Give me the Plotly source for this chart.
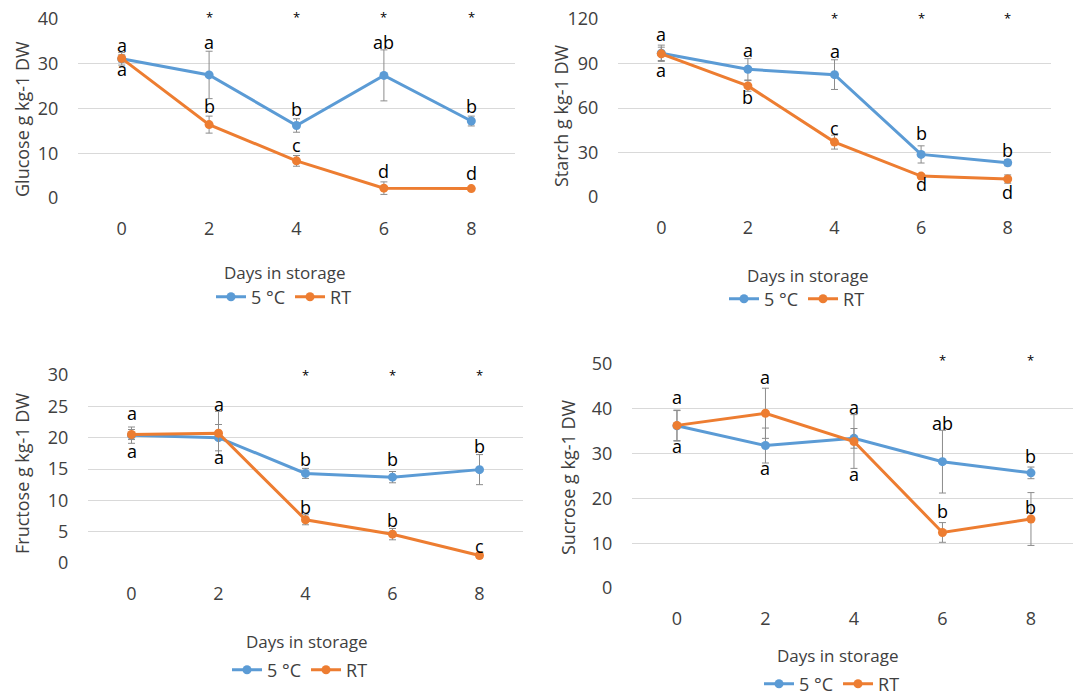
import plotly.graph_objects as go

W, H = 1073, 695

days = [0, 2, 4, 6, 8]
series_names = ["5 °C", "RT"]

glucose_5c = [31.1, 27.5, 16.2, 27.4, 17.2]
glucose_5c_err = [1.4, 5.3, 1.5, 5.7, 1.1]
glucose_rt = [31.2, 16.4, 8.3, 2.2, 2.1]
glucose_rt_err = [0.8, 1.9, 1.2, 1.4, 0.3]
glucose_5c_letters = ["a", "a", "b", "ab", "b"]
glucose_rt_letters = ["a", "b", "c", "d", "d"]
glucose_sig_days = [2, 4, 6, 8]

starch_5c = [96.9, 86.1, 82.5, 28.7, 23.1]
starch_5c_err = [5.5, 7.2, 10.0, 5.8, 2.0]
starch_rt = [96.5, 74.9, 37.0, 14.1, 12.1]
starch_rt_err = [4.5, 3.6, 4.7, 1.5, 2.8]
starch_5c_letters = ["a", "a", "a", "b", "b"]
starch_rt_letters = ["a", "b", "c", "d", "d"]
starch_sig_days = [4, 6, 8]

fructose_5c = [20.4, 20.0, 14.3, 13.7, 14.9]
fructose_5c_err = [1.3, 2.1, 0.8, 0.9, 2.4]
fructose_rt = [20.5, 20.7, 6.9, 4.6, 1.2]
fructose_rt_err = [0.8, 3.5, 0.8, 0.9, 0.4]
fructose_5c_letters = ["a", "a", "b", "b", "b"]
fructose_rt_letters = ["a", "a", "b", "b", "c"]
fructose_sig_days = [4, 6, 8]

sucrose_5c = [36.2, 31.8, 33.4, 28.2, 25.7]
sucrose_5c_err = [3.4, 3.9, 2.2, 7.0, 1.3]
sucrose_rt = [36.3, 39.0, 32.7, 12.4, 15.4]
sucrose_rt_err = [3.4, 5.6, 6.0, 2.2, 5.9]
sucrose_5c_letters = ["a", "a", "a", "ab", "b"]
sucrose_rt_letters = ["a", "a", "a", "b", "b"]
sucrose_sig_days = [6, 8]

y_titles = ["Glucose g kg-1 DW", "Starch g kg-1 DW", "Fructose g kg-1 DW", "Sucrose g kg-1 DW"]
x_title = "Days in storage"

# ---------------- layout / style (pixel geometry) ----------------
BLUE = "#5B9BD5"
ORANGE = "#ED7D31"
TXT = "#404040"
GRID = "#D9D9D9"
FONT = "Open Sans"


def px_x(x):
    return x / W


def px_y(y):
    return 1 - y / H


panel_geo = [
    dict(l=78, r=515, t=19, b=198, ymax=40, dtick=10, xr=[-1, 9]),
    dict(l=618, r=1051, t=19, b=197, ymax=120, dtick=30, xr=[-1, 9]),
    dict(l=88, r=523, t=375, b=563, ymax=30, dtick=5, xr=[-1, 9]),
    dict(l=632, r=1073, t=364, b=588, ymax=50, dtick=10, xr=[-1.016, 8.95]),
]
xtitle_pos = [(285, 272), (808, 275), (307, 641), (838, 655)]
ytitle_pos = [(22, 119), (561, 116), (22, 474), (568, 477)]
legend_pos = [(284, 297), (797, 299), (300, 670), (832, 684)]
offs_5c = [
    [13, 32, 16, 32, 14],
    [18, 18, 23, 20, 12],
    [21, 33, 13, 17, 23],
    [-21, -23, -37, 38, 16],
]
offs_rt = [
    [-12, 18, 15, 16, 15],
    [-17, -12, 13, -9, -14],
    [-17, -25, 12, 13, 8],
    [27, 35, 34, 20, 11],
]
star_shift = [2, 1, 0, 4]

panels = [
    (glucose_5c, glucose_5c_err, glucose_rt, glucose_rt_err, glucose_5c_letters, glucose_rt_letters, glucose_sig_days),
    (starch_5c, starch_5c_err, starch_rt, starch_rt_err, starch_5c_letters, starch_rt_letters, starch_sig_days),
    (fructose_5c, fructose_5c_err, fructose_rt, fructose_rt_err, fructose_5c_letters, fructose_rt_letters, fructose_sig_days),
    (sucrose_5c, sucrose_5c_err, sucrose_rt, sucrose_rt_err, sucrose_5c_letters, sucrose_rt_letters, sucrose_sig_days),
]

fig = go.Figure()
annotations = []
layout = dict(
    width=W, height=H, margin=dict(l=0, r=0, t=0, b=0, autoexpand=False),
    paper_bgcolor="white", plot_bgcolor="white",
    font=dict(family=FONT, size=17, color=TXT),
)

for i, (v5, e5, vr, er, l5, lr, sig) in enumerate(panels):
    n = i + 1
    sfx = "" if n == 1 else str(n)
    xa, ya = "x" + sfx, "y" + sfx
    leg = "legend" + sfx
    g = panel_geo[i]
    for vals, errs, name, col in [(v5, e5, series_names[0], BLUE), (vr, er, series_names[1], ORANGE)]:
        fig.add_trace(go.Scatter(
            x=days, y=vals, name=name, mode="lines+markers",
            line=dict(color=col, width=3),
            marker=dict(color=col, size=9),
            error_y=dict(type="data", array=errs, visible=True, color="#8C8C8C", thickness=1, width=3.5),
            xaxis=xa, yaxis=ya, legend=leg, showlegend=True,
        ))
    layout["xaxis" + sfx] = dict(
        domain=[px_x(g["l"]), min(1.0, px_x(g["r"]))], anchor=ya, range=g["xr"],
        tickvals=days, ticktext=[str(d) for d in days],
        showgrid=False, zeroline=False, showline=False,
        ticks="outside", ticklen=14, tickcolor="rgba(0,0,0,0)",
        tickfont=dict(size=18, color=TXT, family=FONT),
    )
    layout["yaxis" + sfx] = dict(
        domain=[px_y(g["b"]), px_y(g["t"])], anchor=xa, range=[0, g["ymax"]],
        dtick=g["dtick"], tick0=0, showgrid=True, gridcolor=GRID, gridwidth=1,
        zeroline=False, showline=False,
        ticks="outside", ticklen=15, tickcolor="rgba(0,0,0,0)",
        tickfont=dict(size=18, color=TXT, family=FONT),
    )
    lx, ly = legend_pos[i]
    layout[leg] = dict(
        orientation="h", x=px_x(lx), y=px_y(ly), xanchor="center", yanchor="middle",
        font=dict(size=18, color=TXT, family=FONT), bgcolor="rgba(0,0,0,0)",
        itemwidth=30, tracegroupgap=0,
    )
    for vals, lets, offs in [(v5, l5, offs_5c[i]), (vr, lr, offs_rt[i])]:
        for d, v, t, o in zip(days, vals, lets, offs):
            annotations.append(dict(
                x=d, y=v, xref=xa, yref=ya, text=t, showarrow=False,
                yanchor="middle", yshift=o + 1,
                font=dict(size=18, color="#000000", family=FONT),
            ))
    for d in sig:
        annotations.append(dict(
            x=d, y=g["ymax"], xref=xa, yref=ya, text="*", showarrow=False,
            yanchor="middle", yshift=star_shift[i],
            font=dict(size=13, color="#000000", family=FONT),
        ))
    tx, ty = xtitle_pos[i]
    annotations.append(dict(
        x=px_x(tx), y=px_y(ty), xref="paper", yref="paper", text=x_title,
        showarrow=False, xanchor="center", yanchor="middle",
        font=dict(size=17, color=TXT, family=FONT),
    ))
    yx, yy = ytitle_pos[i]
    annotations.append(dict(
        x=px_x(yx), y=px_y(yy), xref="paper", yref="paper", text=y_titles[i],
        showarrow=False, xanchor="center", yanchor="middle", textangle=-90,
        font=dict(size=18, color=TXT, family=FONT),
    ))

layout["annotations"] = annotations
fig.update_layout(**layout)
fig.write_html("out.html")
